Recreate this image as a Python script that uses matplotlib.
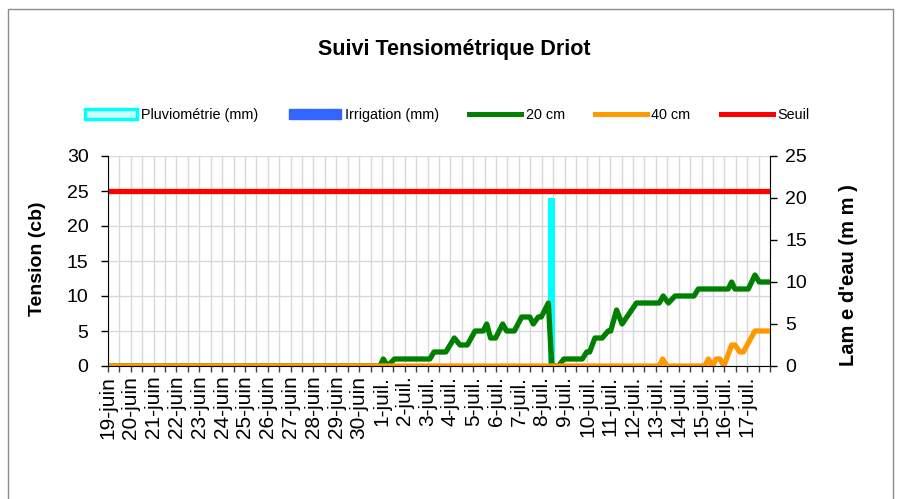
import matplotlib
matplotlib.use("Agg")
import matplotlib.pyplot as plt
from matplotlib.patches import Patch, Rectangle
from matplotlib.lines import Line2D
import numpy as np

plt.rcParams['font.family'] = ['Liberation Sans', 'DejaVu Sans']

# ---- data (x = days since 19-juin 00:00) ----
day_labels = ["19-juin", "20-juin", "21-juin", "22-juin", "23-juin", "24-juin",
              "25-juin", "26-juin", "27-juin", "28-juin", "29-juin", "30-juin",
              "1-juil.", "2-juil.", "3-juil.", "4-juil.", "5-juil.", "6-juil.",
              "7-juil.", "8-juil.", "9-juil.", "10-juil.", "11-juil.", "12-juil.",
              "13-juil.", "14-juil.", "15-juil.", "16-juil.", "17-juil."]

t20 = [0, 11.91, 12.06, 12.25, 12.55, 14.10, 14.28, 14.80, 15.17, 15.42, 15.74,
       16.08, 16.44, 16.59, 16.76, 16.98, 17.29, 17.46, 17.80, 18.12, 18.48,
       18.63, 18.85, 18.98, 19.29, 19.44, 19.73, 19.97, 20.78, 20.97, 21.10,
       21.33, 21.65, 21.91, 22.02, 22.28, 22.52, 23.15, 24.15, 24.32, 24.55,
       24.84, 25.67, 25.86, 27.17, 27.32, 27.46, 28.05, 28.34, 28.53, 29.0]
v20 = [0, 0, 1, 0, 1, 1, 2, 2, 4, 3, 3,
       5, 5, 6, 4, 4, 6, 5, 5, 7, 7,
       6, 7, 7, 9, 0, 0, 1, 1, 2, 2,
       4, 4, 5, 5, 8, 6, 9, 9, 10, 9,
       10, 10, 11, 11, 12, 11, 11, 13, 12, 12]

t40 = [0, 24.15, 24.30, 24.47, 26.15, 26.30, 26.47, 26.64, 26.81, 26.98,
       27.32, 27.46, 27.68, 27.83, 28.34, 29.0]
v40 = [0, 0, 1, 0, 0, 1, 0, 1, 1, 0,
       3, 3, 2, 2, 5, 5]

t_seuil = [0, 29.0]
v_seuil = [25, 25]

t_pluvio = [19.43]
v_pluvio = [20]

t_irrig = []
v_irrig = []

# ---- figure ----
W, H = 897, 499
fig = plt.figure(figsize=(W / 100, H / 100), dpi=100)
fig.patches.append(Rectangle((8 / W, -0.05), (893 - 8) / W, 1.05 - 9 / H,
                             transform=fig.transFigure, fill=False,
                             edgecolor='#8c8c8c', linewidth=1))

pos = [108 / W, 1 - 366 / H, (770 - 108) / W, (366 - 156) / H]
gax = fig.add_axes(pos, zorder=0)
ax2 = fig.add_axes(pos, zorder=1, sharex=gax)
ax = fig.add_axes(pos, zorder=2, sharex=gax)
ax2.patch.set_visible(False)
ax.patch.set_visible(False)

# pluviometry / irrigation bars (right axis)
ax2.bar(t_pluvio, v_pluvio, width=0.29, color='#00FFFF', edgecolor='#00FFFF', linewidth=0)
if len(t_irrig):
    ax2.bar(t_irrig, v_irrig, width=0.29, color='#3366FF')

# tension lines (left axis)
ax.plot(t20, v20, color='#008000', linewidth=3.8, solid_joinstyle='round',
        solid_capstyle='round')
ax.plot(t40, v40, color='#FF9900', linewidth=3.8, solid_joinstyle='round')
ax.plot(t_seuil, v_seuil, color='#FF0000', linewidth=3.8)

# axes limits / ticks
ax.set_xlim(0, 29)
ax.set_ylim(0, 30)
ax2.set_ylim(0, 25)
gax.set_ylim(0, 30)

ax.set_xticks(np.arange(len(day_labels)))
ax.set_xticklabels(day_labels, rotation=90, fontsize=15)
ax.set_xticks(np.arange(0.5, 29.01, 0.5), minor=True)
ax.tick_params(axis='x', which='both', direction='out', length=4, width=1,
               color='#404040', pad=3)
ax.set_yticks(np.arange(0, 31, 5))
ax.tick_params(axis='y', labelsize=14, direction='out', length=5, width=1, pad=9)

ax2.yaxis.tick_right()
ax2.yaxis.set_label_position('right')
ax2.set_yticks(np.arange(0, 26, 5))
ax2.tick_params(axis='y', labelsize=14, direction='out', length=5, width=1, pad=6)
ax2.tick_params(axis='x', which='both', length=0, labelbottom=False)

gax.set_yticks(np.arange(0, 31, 5))
gax.tick_params(axis='both', which='both', length=0, labelbottom=False, labelleft=False)
gax.grid(True, which='both', axis='x', color='#d9d9d9', linewidth=1)
gax.grid(True, which='major', axis='y', color='#d9d9d9', linewidth=1)
gax.set_axisbelow(True)

for s in gax.spines.values():
    s.set_visible(False)
for k in ['top', 'right']:
    ax.spines[k].set_visible(False)
for k in ['top', 'left', 'bottom']:
    ax2.spines[k].set_visible(False)
ax.spines['left'].set_color('black')
ax.spines['bottom'].set_color('black')
ax2.spines['right'].set_color('black')

ax.set_ylabel('Tension (cb)', fontsize=14, fontweight='bold')
ax.yaxis.set_label_coords(-0.107, 0.51)
ax2.set_ylabel("Lam e d'eau (m m )", fontsize=14.5, fontweight='bold', rotation=90)
ax2.yaxis.set_label_coords(1.118, 0.433)
ax.yaxis.label.set_va('center')
ax2.yaxis.label.set_va('center')

fig.text(454 / W, 1 - 50 / H, 'Suivi Tensiométrique Driot', ha='center',
         va='center', fontsize=15.5, fontweight='bold')

handles = [Patch(facecolor='#ccffff', edgecolor='#00ffff', linewidth=2.5),
           Patch(facecolor='#3366FF', edgecolor='#3366FF'),
           Line2D([], [], color='#008000', linewidth=3.6),
           Line2D([], [], color='#FF9900', linewidth=3.6),
           Line2D([], [], color='#FF0000', linewidth=3.6)]
labels = ['Pluviométrie (mm)', 'Irrigation (mm)', '20 cm', '40 cm', 'Seuil']
fig.legend(handles, labels, loc='center', bbox_to_anchor=(447 / W, 1 - 115 / H),
           ncol=5, frameon=False, fontsize=10.4, handlelength=3.6,
           handleheight=0.7, handletextpad=0.3, columnspacing=2.1)

fig.savefig('out.png', dpi=100)
